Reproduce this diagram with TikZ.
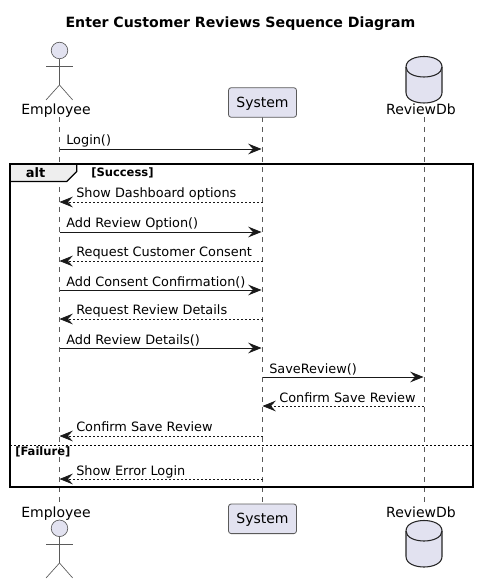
\documentclass[tikz,border=0pt]{standalone}
\usepackage{fontspec}
\setmainfont{DejaVu Sans}
\usetikzlibrary{arrows.meta, positioning}
\definecolor{partfill}{HTML}{E2E2F0}
\definecolor{partline}{HTML}{5A5A5A}
\definecolor{tabfill}{HTML}{EEEEEE}

\begin{document}
\begin{tikzpicture}[x=0.75pt, y=-0.75pt]

	\tikzstyle{partbox}=[draw=partline, fill=partfill, rounded corners=2pt, line width=0.6pt, minimum width=51pt, inner sep=0pt, text depth=7.7pt, text height=14.5pt, font=\fontsize{10.5}{12}\selectfont]
	\tikzstyle{actorhead}=[circle, draw=partline, fill=partfill, line width=0.5pt, minimum size=12.4pt, inner sep=0pt]
	\tikzstyle{limb}=[draw=partline, line width=0.5pt]
	\tikzstyle{partname}=[anchor=base, inner sep=0pt, font=\fontsize{10.5}{12}\selectfont]
	\tikzstyle{life}=[draw=partline, line width=0.5pt, dash pattern=on 3.75pt off 3.75pt]
	\tikzstyle{call}=[black!90, line width=0.7pt, -{Stealth[length=10pt, width=8pt, inset=3.6pt]}]
	\tikzstyle{back}=[black!90, line width=0.55pt, dash pattern=on 1.5pt off 1.5pt, -{Stealth[length=10pt, width=8pt, inset=3.6pt]}]
	\tikzstyle{lbl}=[anchor=base west, inner sep=0pt, font=\fontsize{9.65}{12}\selectfont]
	\tikzstyle{guard}=[anchor=base west, inner sep=0pt, font=\fontsize{8.65}{10}\selectfont\bfseries]
	\tikzset{drum/.pic={
		\draw[black!85, fill=partfill, line width=0.8pt] (-18, 10.5) -- (-18, 36) .. controls (-18, 43) and (-9, 46.5) .. (0, 46.5) .. controls (9, 46.5) and (18, 43) .. (18, 36) -- (18, 10.5) .. controls (18, 3.5) and (9, 0) .. (0, 0) .. controls (-9, 0) and (-18, 3.5) .. (-18, 10.5) -- cycle;
		\draw[black!85, line width=0.8pt] (-18, 10.5) .. controls (-18, 17) and (-9, 20.5) .. (0, 20.5) .. controls (9, 20.5) and (18, 17) .. (18, 10.5);
	}}

	\useasboundingbox (0, 0) rectangle (479, 584);

	\node[anchor=base, font=\fontsize{10.6}{12}\selectfont\bfseries] (title) at (240.5, 28) {Enter Customer Reviews Sequence Diagram};

	% LIFELINES
	\coordinate (emp_t) at (59.5, 117);
	\coordinate (emp_b) at (59.5, 503);
	\coordinate (sys_t) at (262.5, 117);
	\coordinate (sys_b) at (262.5, 503);
	\coordinate (rev_t) at (424, 117);
	\coordinate (rev_b) at (424, 503);

	\draw[life] (emp_t) -- (emp_b);
	\draw[life] (sys_t) -- (sys_b);
	\draw[life] (rev_t) -- (rev_b);

	% TOP PARTICIPANTS
	\node[actorhead] (head_1) at (59.5, 50.5) {};
	\draw[limb] (head_1) -- (59.5, 85) -- (46, 100);
	\draw[limb] (59.5, 85) -- (72.7, 100);
	\draw[limb] (46, 66) -- (72.7, 66);
	\node[partname] (emp_1) at (56, 115) {Employee};
	\node[partbox] (sys_1) at (262.5, 102.5) {System};
	\pic (rev_1) at (424, 56.5) {drum};
	\node[partname] (rev_n1) at (421, 115) {ReviewDb};

	% BOTTOM PARTICIPANTS
	\node[actorhead] (head_2) at (59.5, 528.3) {};
	\draw[limb] (head_2) -- (59.5, 563) -- (46, 578);
	\draw[limb] (59.5, 563) -- (72.7, 578);
	\draw[limb] (46, 544) -- (72.7, 544);
	\node[partname] (emp_2) at (56, 517) {Employee};
	\node[partbox] (sys_2) at (262.5, 518.8) {System};
	\pic (rev_2) at (424, 520.5) {drum};
	\node[partname] (rev_n2) at (421, 517) {ReviewDb};

	% FRAME
	\draw[fill=tabfill, line width=1pt] (10, 164) -- (76.7, 164) -- (76.7, 171.5) -- (66.7, 181.5) -- (10, 181.5) -- cycle;
	\draw[black, line width=1.5pt] (10, 164) rectangle (473, 487);
	\draw[black, line width=0.55pt, dash pattern=on 1.5pt off 1.5pt] (10, 445) -- (473, 445);
	\node[anchor=base, inner sep=0pt, font=\fontsize{9.75}{12}\selectfont\bfseries] (alt) at (35.5, 178) {alt};
	\node[guard] (ok) at (91, 177) {[Success]};
	\node[guard] (ko) at (15, 455) {[Failure]};

	% MESSAGES
	\coordinate (e_1) at (59.5, 149);
	\coordinate (s_1) at (261.5, 149);
	\coordinate (e_2) at (59.5, 202);
	\coordinate (s_2) at (262.5, 202);
	\coordinate (e_3) at (59.5, 232);
	\coordinate (s_3) at (261.5, 232);
	\coordinate (e_4) at (59.5, 261);
	\coordinate (s_4) at (262.5, 261);
	\coordinate (e_5) at (59.5, 290);
	\coordinate (s_5) at (261.5, 290);
	\coordinate (e_6) at (59.5, 319);
	\coordinate (s_6) at (262.5, 319);
	\coordinate (e_7) at (59.5, 348);
	\coordinate (s_7) at (261.5, 348);
	\coordinate (s_8) at (262.5, 377);
	\coordinate (r_8) at (423.5, 377);
	\coordinate (s_9) at (262.5, 406);
	\coordinate (r_9) at (423.5, 406);
	\coordinate (e_10) at (59.5, 436);
	\coordinate (s_10) at (262.5, 436);
	\coordinate (e_11) at (59.5, 479);
	\coordinate (s_11) at (262.5, 479);

	\draw[call] (e_1) -- (s_1);
	\draw[back] (s_2) -- (e_2);
	\draw[call] (e_3) -- (s_3);
	\draw[back] (s_4) -- (e_4);
	\draw[call] (e_5) -- (s_5);
	\draw[back] (s_6) -- (e_6);
	\draw[call] (e_7) -- (s_7);
	\draw[call] (s_8) -- (r_8);
	\draw[back] (r_9) -- (s_9);
	\draw[back] (s_10) -- (e_10);
	\draw[back] (s_11) -- (e_11);

	\node[lbl] (m_1) at (66, 145) {Login()};
	\node[lbl] (m_2) at (76, 198) {Show Dashboard options};
	\node[lbl] (m_3) at (66, 228) {Add Review Option()};
	\node[lbl] (m_4) at (76, 256.5) {Request Customer Consent};
	\node[lbl] (m_5) at (66, 286) {Add Consent Confirmation()};
	\node[lbl] (m_6) at (76, 314.5) {Request Review Details};
	\node[lbl] (m_7) at (66, 344) {Add Review Details()};
	\node[lbl] (m_8) at (269, 373) {SaveReview()};
	\node[lbl] (m_9) at (279, 402) {Confirm Save Review};
	\node[lbl] (m_10) at (76, 431) {Confirm Save Review};
	\node[lbl] (m_11) at (76, 475) {Show Error Login};
\end{tikzpicture}
\end{document}
